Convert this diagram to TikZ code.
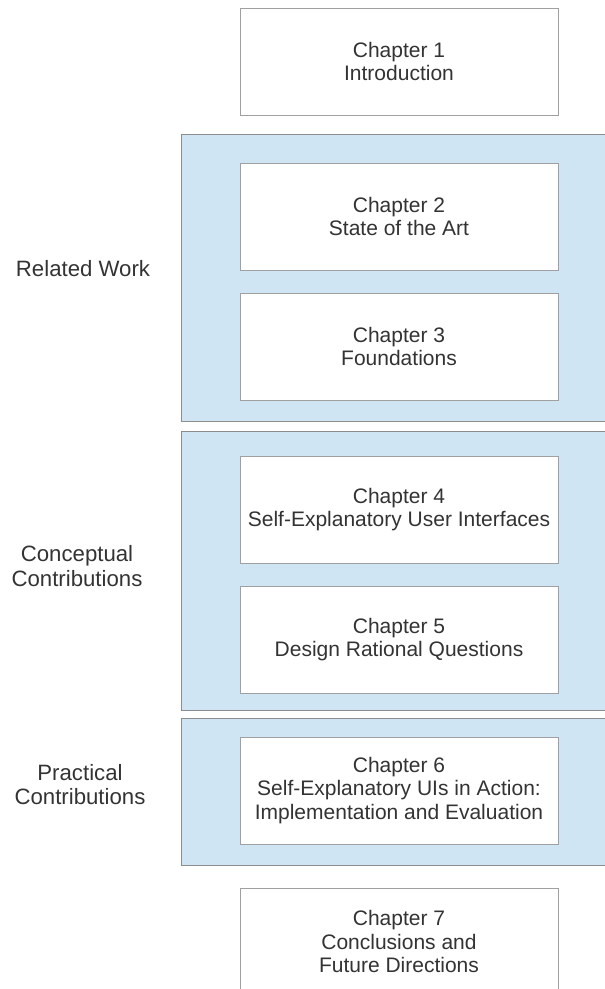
\documentclass[tikz,border=0pt]{standalone}
\usepackage{fontspec}
\setmainfont{Liberation Sans}
\definecolor{panelblue}{HTML}{CFE5F3}
\definecolor{panelline}{HTML}{8C8C8C}
\definecolor{boxline}{HTML}{A0A0A0}
\definecolor{txt}{HTML}{333333}
\tikzset{
  chapbox/.style={draw=boxline, line width=1pt, fill=white, minimum width=318pt, minimum height=107pt, inner sep=0pt, align=center, text=txt, font=\fontsize{21pt}{23.5pt}\selectfont},
  panel/.style={draw=panelline, line width=1pt, fill=panelblue},
  sidelabel/.style={align=center, text=txt, font=\fontsize{22.2pt}{24.5pt}\selectfont}
}
\begin{document}
\begin{tikzpicture}[x=1pt,y=-1pt]
\useasboundingbox (0,0) rectangle (605,989);
\clip (0,0) rectangle (605,989);
% panels
\path[panel] (181,134) rectangle (620,421);
\path[panel] (181,431) rectangle (620,710);
\path[panel] (181,718) rectangle (620,865);
% chapter boxes
\node[chapbox] (c1) at (399,61.5) {Chapter 1\\Introduction};
\node[chapbox] (c2) at (399,216.5) {Chapter 2\\State of the Art};
\node[chapbox] (c3) at (399,346.5) {Chapter 3\\Foundations};
\node[chapbox] (c4) at (399,509.5) {Chapter 4\\Self-Explanatory User Interfaces};
\node[chapbox] (c5) at (399,639.5) {Chapter 5\\Design Rational Questions};
\node[chapbox] (c6) at (399,790.5) {Chapter 6\\Self-Explanatory UIs in Action:\\Implementation and Evaluation};
\node[chapbox] (c7) at (399,941.5) {Chapter 7\\Conclusions and\\Future Directions};
% side labels
\node[sidelabel] (l1) at (83,268.5) {Related Work};
\node[sidelabel] (l2) at (77,566) {Conceptual\\Contributions};
\node[sidelabel] (l3) at (80,784.5) {Practical\\Contributions};
\end{tikzpicture}
\end{document}
